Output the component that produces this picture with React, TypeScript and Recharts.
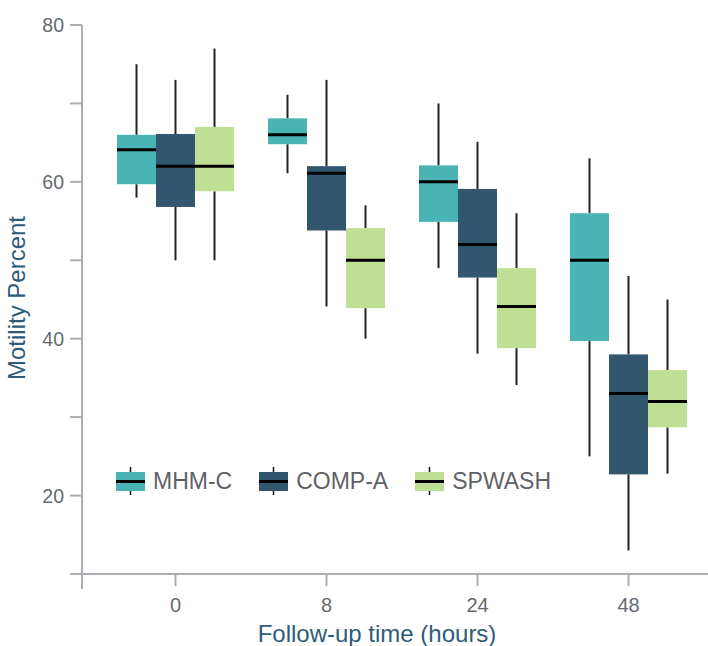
import { Bar, ComposedChart, Legend, XAxis, YAxis, Label } from "recharts";

// follow-up times on the x axis
const categories = ["0", "8", "24", "48"];

// box stats per time point: [min, q1, median, q3, max]
const mhmcStats = [
  [58, 59.7, 64.1, 66, 75],
  [61.1, 64.8, 66, 68.1, 71.1],
  [49, 54.9, 60, 62.1, 70],
  [25, 39.7, 50, 56, 63],
];
const compAStats = [
  [50, 56.8, 62, 66.1, 73],
  [44.1, 53.8, 61.1, 62, 73],
  [38.1, 47.8, 52, 59.1, 65.1],
  [13, 22.7, 33, 38, 48],
];
const spwashStats = [
  [50, 58.8, 62, 67, 77],
  [40, 43.9, 50, 54.1, 57],
  [34.1, 38.8, 44.1, 49, 56],
  [22.8, 28.7, 32, 36, 45],
];

const seriesNames = ["MHM-C", "COMP-A", "SPWASH"];
const seriesKeys = ["mhmc", "compA", "spwash"];
const seriesColors = ["#4ab3b4", "#32566e", "#bfdf94"];

const yTicks = [10, 20, 30, 40, 50, 60, 70, 80];
const yLabeled = [20, 40, 60, 80];

const AXIS = "#a9adb2";
const TICK_TEXT = "#666a6e";
const TITLE = "#2f5b78";
const FONT = "'Liberation Sans', Arial, Helvetica, sans-serif";

const data = categories.map((time, i) => ({
  time,
  mhmc: mhmcStats[i],
  compA: compAStats[i],
  spwash: spwashStats[i],
}));

function BoxShape(props: any) {
  const { x, y, width, height, stats, fill } = props;
  if (!stats) return null;
  const top = Math.min(y, y + height);
  const bottom = Math.max(y, y + height);
  const [mn, q1, med, q3, mx] = stats;
  const toPx = (v: number) => top + ((mx - v) / (mx - mn)) * (bottom - top);
  const cx = x + width / 2;
  return (
    <g>
      <line x1={cx} x2={cx} y1={top} y2={toPx(q3)} stroke="#222" strokeWidth={2} />
      <line x1={cx} x2={cx} y1={toPx(q1)} y2={bottom} stroke="#222" strokeWidth={2} />
      <rect x={x} y={toPx(q3)} width={width} height={toPx(q1) - toPx(q3)} fill={fill} />
      <line x1={x} x2={x + width} y1={toPx(med)} y2={toPx(med)} stroke="#000" strokeWidth={3} />
    </g>
  );
}

function YTick(props: any) {
  const { x, y, payload } = props;
  if (payload.value === 10) {
    // continue the axis line below the x axis, like the original's outer tick
    return <line x1={x + 18} x2={x + 18} y1={y} y2={y + 15} stroke={AXIS} strokeWidth={2} />;
  }
  if (!yLabeled.includes(payload.value)) return null;
  return (
    <text x={x} y={y} dy="0.36em" textAnchor="end" fontSize={19.5} fill={TICK_TEXT} fontFamily={FONT}>
      {payload.value}
    </text>
  );
}

function XTick(props: any) {
  const { x, y, payload } = props;
  return (
    <text x={x} y={y} dy="0.71em" textAnchor="middle" fontSize={20} fill={TICK_TEXT} fontFamily={FONT}>
      {payload.value}
    </text>
  );
}

function YTitle() {
  return (
    <text
      transform="translate(25, 298) rotate(-90)"
      textAnchor="middle"
      fontSize={24}
      fill={TITLE}
      fontFamily={FONT}
    >
      Motility Percent
    </text>
  );
}

function LegendSwatch({ color }: { color: string }) {
  return (
    <svg width={29} height={28} style={{ display: "block" }}>
      <line x1={14.5} x2={14.5} y1={0} y2={28} stroke="#111" strokeWidth={1.5} />
      <rect x={0} y={5} width={29} height={19} fill={color} />
      <line x1={0} x2={29} y1={14.5} y2={14.5} stroke="#000" strokeWidth={3} />
    </svg>
  );
}

function BoxLegend() {
  return (
    <div style={{ display: "flex", alignItems: "center", fontFamily: FONT }}>
      {seriesNames.map((name, i) => (
        <div key={name} style={{ display: "flex", alignItems: "center", marginRight: 27 }}>
          <LegendSwatch color={seriesColors[i]} />
          <span style={{ marginLeft: 8, fontSize: 23, color: "#5f6266", lineHeight: "28px" }}>{name}</span>
        </div>
      ))}
    </div>
  );
}

export default function App() {
  return (
    <div
      style={{
        position: "absolute",
        left: 0,
        top: 0,
        width: 708,
        height: 646,
        overflow: "hidden",
        background: "#fff",
      }}
    >
      <ComposedChart
        width={730}
        height={646}
        data={data}
        margin={{ top: 25, right: 6, bottom: 0, left: 0 }}
        barGap={0}
        barSize={39}
        style={{ fontFamily: FONT }}
      >
        <XAxis
          dataKey="time"
          height={72}
          padding={{ left: 18, right: 20 }}
          axisLine={{ stroke: AXIS, strokeWidth: 2 }}
          tickLine={{ stroke: AXIS, strokeWidth: 2 }}
          tickSize={12}
          tickMargin={12}
          tick={<XTick />}
        >
          <Label
            value="Follow-up time (hours)"
            position="insideBottom"
            offset={4}
            dx={-26}
            fontSize={24}
            fill={TITLE}
            fontFamily={FONT}
          />
        </XAxis>
        <YAxis
          type="number"
          domain={[10, 80]}
          ticks={yTicks}
          allowDataOverflow
          width={82}
          axisLine={{ stroke: AXIS, strokeWidth: 2 }}
          tickLine={{ stroke: AXIS, strokeWidth: 2 }}
          tickSize={12}
          tickMargin={6}
          tick={<YTick />}
          label={<YTitle />}
        />
        <Legend
          layout="horizontal"
          verticalAlign="middle"
          align="center"
          wrapperStyle={{ left: 116, top: 467, width: "auto" }}
          content={() => <BoxLegend />}
        />
        {seriesKeys.map((key, i) => (
          <Bar
            key={key}
            name={seriesNames[i]}
            dataKey={(d: any) => [d[key][0], d[key][4]]}
            fill={seriesColors[i]}
            isAnimationActive={false}
            shape={(p: any) => <BoxShape {...p} stats={p.payload?.[key]} fill={seriesColors[i]} />}
          />
        ))}
      </ComposedChart>
    </div>
  );
}
